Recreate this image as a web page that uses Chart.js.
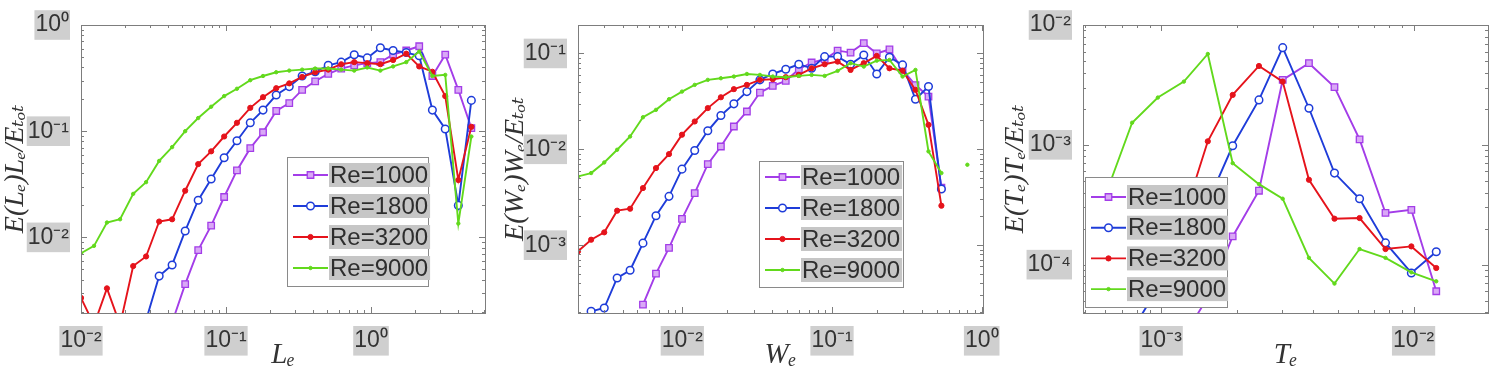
<!DOCTYPE html>
<html><head><meta charset="utf-8">
<script src="https://cdn.jsdelivr.net/npm/chart.js@4.4.1/dist/chart.umd.min.js"></script>
<style>
html,body{margin:0;padding:0;background:#fff;width:1498px;height:374px;overflow:hidden}
canvas{position:absolute;top:0}
</style></head><body>
<canvas id="c1" width="500" height="374" style="left:0px"></canvas>
<canvas id="c2" width="500" height="374" style="left:500px"></canvas>
<canvas id="c3" width="498" height="374" style="left:1000px"></canvas>
<script>
// ---------- data ----------
const seriesNames = ['Re=1000', 'Re=1800', 'Re=3200', 'Re=9000'];

// Panel 1: length scale L_e
const lE = [0.0100,0.0123,0.0151,0.0186,0.0229,0.0281,0.0346,0.0425,0.0523,0.0643,0.0790,0.0971,0.119,0.147,0.180,0.222,0.273,0.335,0.412,0.507,0.623,0.766,0.942,1.16,1.42,1.75,2.15,2.65,3.25,4.00,4.92];
const lRe1000 = [null,null,null,null,null,null,null,0.00158,0.00363,0.00759,0.0129,0.0240,0.0427,0.0692,0.0977,0.155,0.184,0.245,0.295,0.347,0.389,0.417,0.437,0.447,0.525,0.575,0.631,0.331,0.525,0.245,0.107];
const lRe1800 = [null,null,null,null,null,0.00166,0.00432,0.00550,0.0115,0.0224,0.0355,0.0562,0.0813,0.120,0.158,0.219,0.263,0.331,0.363,0.417,0.447,0.525,0.490,0.610,0.575,0.550,0.513,0.158,0.105,0.0200,0.195];
const lRe3200 = [0.00269,0.0015,0.00331,0.0015,0.00537,0.00661,0.0141,0.0148,0.0275,0.0490,0.0646,0.0891,0.120,0.166,0.209,0.254,0.282,0.324,0.359,0.380,0.427,0.447,0.437,0.427,0.468,0.537,0.407,0.363,0.214,0.0347,0.110];
const lRe9000 = [0.00708,0.00832,0.0138,0.0148,0.0257,0.0331,0.0525,0.0708,0.100,0.133,0.170,0.214,0.251,0.302,0.331,0.359,0.372,0.380,0.389,0.389,0.380,0.372,0.398,0.372,0.407,0.447,0.562,0.331,0.339,0.0135,0.0891];
const lXTicks = [0.01, 0.1, 1];
const lXTickLabels = ['10⁻²', '10⁻¹', '10⁰'];
const lYTicks = [0.01, 0.1, 1];
const lYTickLabels = ['10⁻²', '10⁻¹', '10⁰'];

// Panel 2: W_e
const wE = [0.00201,0.00246,0.00301,0.00367,0.00448,0.00546,0.00667,0.00815,0.00995,0.0121,0.0148,0.0181,0.0221,0.0270,0.0330,0.0402,0.0491,0.0600,0.0731,0.0893,0.109,0.133,0.163,0.199,0.242,0.296,0.361,0.441,0.538,0.658,0.802];
const wRe1000 = [null,null,null,null,null,0.000240,0.000505,0.000935,0.00188,0.00349,0.00700,0.0107,0.0173,0.0248,0.0391,0.0458,0.0518,0.0684,0.0804,0.0869,0.107,0.102,0.128,0.100,0.110,0.0673,0.0468,0.0355,0.00398,null,null];
const wRe1800 = [null,0.000204,0.000221,0.000455,0.000547,0.00105,0.00203,0.00323,0.00621,0.00973,0.0156,0.0225,0.0298,0.0400,0.0530,0.0611,0.0684,0.0771,0.0700,0.0927,0.0927,0.0771,0.0964,0.0611,0.0912,0.0759,0.0333,0.0452,0.00385,null,null];
const wRe3200 = [0.000863,0.00114,0.00136,0.00229,0.00240,0.00394,0.00637,0.00891,0.0142,0.0195,0.0269,0.0349,0.0424,0.0470,0.0530,0.0538,0.0565,0.0597,0.0700,0.0771,0.0822,0.0673,0.0791,0.0942,0.0700,0.0662,0.0417,0.0180,0.00258,null,null];
const wRe9000 = [0.00521,0.00565,0.00729,0.00989,0.0136,0.0216,0.0258,0.0333,0.0400,0.0470,0.0530,0.0551,0.0574,0.0611,0.0597,0.0574,0.0565,0.0583,0.0597,0.0583,0.0658,0.0791,0.0729,0.0841,0.0855,0.0574,0.0673,0.00951,0.00565,null,0.00690];
const wXTicks = [0.01, 0.1, 1];
const wXTickLabels = ['10⁻²', '10⁻¹', '10⁰'];
const wYTicks = [0.001, 0.01, 0.1];
const wYTickLabels = ['10⁻³', '10⁻²', '10⁻¹'];

// Panel 3: T_e
const tE = [0.000609,0.000767,0.000970,0.00123,0.00153,0.00192,0.00244,0.00303,0.00385,0.00486,0.00611,0.00774,0.00980,0.0123];
const tRe1000 = [null,null,null,0.0000251,0.0000535,0.000172,0.000414,0.00348,0.00480,0.00303,0.00111,0.000270,0.000287,0.0000600];
const tRe1800 = [null,0.0000282,0.0000640,0.000142,0.000331,0.000982,0.00237,0.00647,0.00202,0.000581,0.000355,0.000152,0.0000853,0.000128];
const tRe3200 = [null,null,null,0.000251,0.00107,0.00261,0.00455,0.00337,0.000511,0.000242,0.000245,0.000135,0.000142,0.0000938];
const tRe9000 = [0.000408,0.00153,0.00248,0.00337,0.00573,0.000703,0.000470,0.000355,0.000114,0.0000695,0.000135,0.000114,0.0000863,0.0000726];
const tXTicks = [0.001, 0.01];
const tXTickLabels = ['10⁻³', '10⁻²'];
const tYTicks = [0.0001, 0.001, 0.01];
const tYTickLabels = ['10⁻⁴', '10⁻³', '10⁻²'];

// ---------- styles ----------
const styles = [
  {color:'#a33de8', pointStyle:'rect',   radius:4.6, bg:'#d9a8f6', pbw:1.3},
  {color:'#1e3cd9', pointStyle:'circle', radius:3.8, bg:'#ffffff', pbw:1.5},
  {color:'#e5131b', pointStyle:'circle', radius:2.6, bg:'#e5131b', pbw:1},
  {color:'#62d91c', pointStyle:'circle', radius:1.7, bg:'#62d91c', pbw:1}
];
const tickFont = {family:"'Liberation Sans', Arial, sans-serif", size:23};
const yTitleFont = {family:"'Liberation Serif', 'DejaVu Serif', serif", size:28, style:'italic', lineHeight:1.0};
const xTitleFont = {family:"'Liberation Serif', 'DejaVu Serif', serif", size:29, style:'italic'};

const frame = {
  id: 'frame',
  afterDatasetsDraw(chart) {
    const {ctx, chartArea: a, scales} = chart;
    ctx.save();
    ctx.strokeStyle = '#7d7d7d';
    ctx.lineWidth = 1;
    ctx.strokeRect(Math.round(a.left) + 0.5, Math.round(a.top) + 0.5, Math.round(a.right - a.left), Math.round(a.bottom - a.top));
    const drawTicks = (s, horiz) => {
      const lo = Math.floor(Math.log10(s.min)), hi = Math.ceil(Math.log10(s.max));
      for (let d = lo; d <= hi; d++) {
        for (let m = 1; m <= 9; m++) {
          const v = m * Math.pow(10, d);
          if (v < s.min || v > s.max) continue;
          const p = Math.round(s.getPixelForValue(v)) + 0.5;
          const len = m === 1 ? 6 : 3;
          ctx.beginPath();
          if (horiz) {
            ctx.moveTo(p, a.bottom); ctx.lineTo(p, a.bottom - len);
            ctx.moveTo(p, a.top); ctx.lineTo(p, a.top + len);
          } else {
            ctx.moveTo(a.left, p); ctx.lineTo(a.left + len, p);
            ctx.moveTo(a.right, p); ctx.lineTo(a.right - len, p);
          }
          ctx.stroke();
        }
      }
    };
    drawTicks(scales.x, true);
    drawTicks(scales.y, false);
    ctx.restore();
  }
};

const legendBox = {
  id: 'legendBox',
  afterDatasetsDraw(chart, args, o) {
    const {ctx} = chart;
    ctx.save();
    ctx.fillStyle = '#ffffff';
    ctx.fillRect(o.left, o.top, o.width, o.height);
    ctx.strokeStyle = '#8a8a8a';
    ctx.lineWidth = 1;
    ctx.strokeRect(o.left + 0.5, o.top + 0.5, o.width, o.height);
    ctx.font = "24px 'Liberation Sans', Arial, sans-serif";
    ctx.textBaseline = 'middle';
    chart.data.datasets.forEach((ds, i) => {
      const cy = o.top + o.first + i * o.step;
      const x0 = o.left + 6, x1 = o.left + 41;
      ctx.strokeStyle = ds.borderColor;
      ctx.lineWidth = ds.borderWidth;
      ctx.beginPath(); ctx.moveTo(x0, cy); ctx.lineTo(x1, cy); ctx.stroke();
      ctx.fillStyle = ds.pointBackgroundColor;
      ctx.strokeStyle = ds.pointBorderColor;
      ctx.lineWidth = ds.pointBorderWidth;
      Chart.helpers.drawPoint(ctx, {pointStyle: ds.pointStyle, radius: ds.pointRadius, borderWidth: ds.pointBorderWidth, rotation: 0}, (x0 + x1) / 2, cy);
      const tx = o.left + 43;
      const tw = ctx.measureText(ds.label).width;
      ctx.fillStyle = '#c6c6c6';
      ctx.fillRect(tx - 1, cy - 12, tw + 3, 24);
      ctx.fillStyle = '#2e2e2e';
      ctx.fillText(ds.label, tx, cy + 1);
    });
    ctx.restore();
  }
};

function makeChart(id, p) {
  const series = p.series;
  const datasets = series.map((ys, i) => ({
    label: seriesNames[i],
    data: p.x.map((x, k) => ({x: x, y: ys[k]})),
    borderColor: styles[i].color,
    backgroundColor: styles[i].bg,
    pointStyle: styles[i].pointStyle,
    pointRadius: styles[i].radius,
    pointBackgroundColor: styles[i].bg,
    pointBorderColor: styles[i].color,
    pointBorderWidth: styles[i].pbw,
    borderWidth: 1.9,
    tension: 0,
    spanGaps: false,
    order: 3 - i
  }));
  const zeroPad = s => { s.paddingLeft = 0; s.paddingRight = 0; s.paddingTop = 0; s.paddingBottom = 0; };
  return new Chart(document.getElementById(id), {
    type: 'line',
    data: {datasets},
    plugins: [frame, legendBox],
    options: {
      responsive: false,
      animation: false,
      devicePixelRatio: 1,
      layout: {padding: {left: 0, top: 25, right: p.rightPad, bottom: 0}},
      plugins: {
        legend: {display: false},
        tooltip: {enabled: false},
        legendBox: p.legend
      },
      scales: {
        x: {
          type: 'logarithmic', min: p.xMin, max: p.xMax,
          grid: {display: false},
          border: {display: false},
          afterBuildTicks: s => { s.ticks = p.xTicks.map(v => ({value: v})); },
          afterFit: s => { s.height = 61; zeroPad(s); },
          ticks: {
            autoSkip: false, maxRotation: 0, padding: 6,
            font: tickFont, color: '#333',
            showLabelBackdrop: true, backdropColor: '#cfcfcf', backdropPadding: 1,
            callback: (v, i) => p.xTickLabels[i]
          },
          title: {display: true, text: p.xTitle, font: xTitleFont, color: '#333', padding: {top: 0, bottom: 1}}
        },
        y: {
          type: 'logarithmic', min: p.yMin, max: p.yMax,
          grid: {display: false},
          border: {display: false},
          afterBuildTicks: s => { s.ticks = p.yTicks.map(v => ({value: v})); },
          afterFit: s => { s.width = p.leftW; zeroPad(s); },
          ticks: {
            autoSkip: false, padding: 4,
            font: tickFont, color: '#333',
            showLabelBackdrop: true, backdropColor: '#cfcfcf', backdropPadding: 1,
            callback: (v, i) => p.yTickLabels[i]
          },
          title: {display: true, text: p.yTitle, font: yTitleFont, color: '#333', padding: {top: 2, bottom: 0}}
        }
      }
    }
  });
}

makeChart('c1', {
  x: lE, series: [lRe1000, lRe1800, lRe3200, lRe9000],
  xMin: 0.01, xMax: 6.11, yMin: 0.00194, yMax: 1,
  xTicks: lXTicks, xTickLabels: lXTickLabels, yTicks: lYTicks, yTickLabels: lYTickLabels,
  xTitle: 'Lₑ', yTitle: 'E(Lₑ)Lₑ/Eₜₒₜ',
  leftW: 81, rightPad: 15,
  legend: {left: 287, top: 157, width: 141, height: 129, first: 18, step: 31}
});
makeChart('c2', {
  x: wE, series: [wRe1000, wRe1800, wRe3200, wRe9000],
  xMin: 0.00201, xMax: 1.02, yMin: 0.000196, yMax: 0.198,
  xTicks: wXTicks, xTickLabels: wXTickLabels, yTicks: wYTicks, yTickLabels: wYTickLabels,
  xTitle: 'Wₑ', yTitle: 'E(Wₑ)Wₑ/Eₜₒₜ',
  leftW: 78, rightPad: 17,
  legend: {left: 259, top: 161, width: 144, height: 126, first: 16, step: 31}
});
makeChart('c3', {
  x: tE, series: [tRe1000, tRe1800, tRe3200, tRe9000],
  xMin: 0.000490, xMax: 0.01972, yMin: 0.0000395, yMax: 0.01,
  xTicks: tXTicks, xTickLabels: tXTickLabels, yTicks: tYTicks, yTickLabels: tYTickLabels,
  xTitle: 'Tₑ', yTitle: 'E(Tₑ)Tₑ/Eₜₒₜ',
  leftW: 83, rightPad: 10,
  legend: {left: 85, top: 177, width: 142, height: 130, first: 20, step: 30.7}
});
</script>
</body></html>
